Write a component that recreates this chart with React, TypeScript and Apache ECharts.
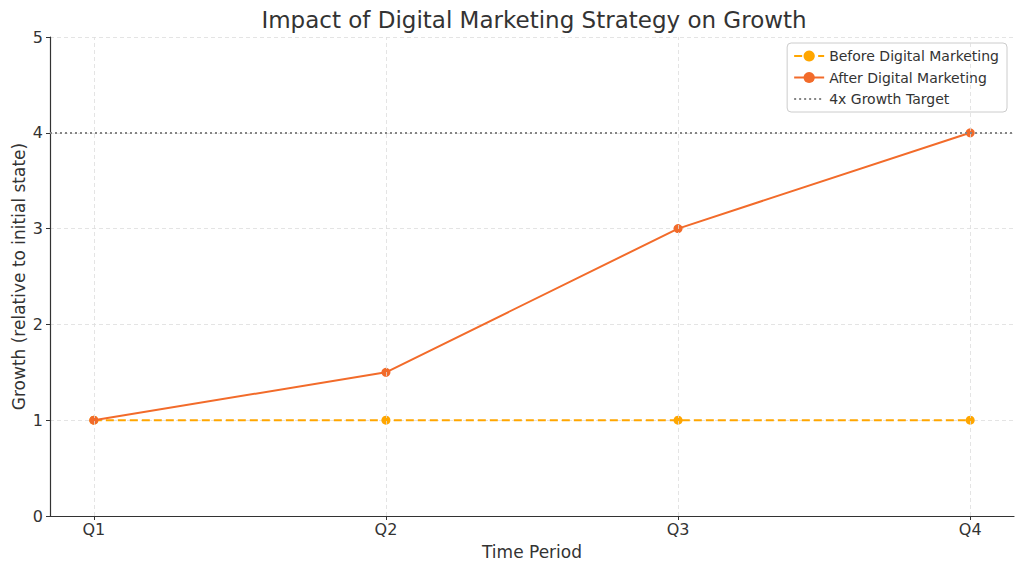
import React, { useEffect, useRef } from "react";
import * as echarts from "echarts";

const categories = ["Q1", "Q2", "Q3", "Q4"];
const beforeValues = [1, 1, 1, 1];
const afterValues = [1, 1.5, 3, 4];
const targetValue = 4;
const yTicks = [0, 1, 2, 3, 4, 5];

const FONT = "DejaVu Sans";
const TEXT = "#333333";

export default function App() {
  const ref = useRef<HTMLDivElement>(null);
  useEffect(() => {
    if (!ref.current) return;
    const chart = echarts.init(ref.current, null, { renderer: "svg" });
    const idx = categories.map((_, i) => i);
    chart.setOption({
      animation: false,
      backgroundColor: "#ffffff",
      textStyle: { fontFamily: FONT },
      title: {
        text: "Impact of Digital Marketing Strategy on Growth",
        left: 529,
        textAlign: "center",
        top: 3,
        textStyle: { fontFamily: FONT, fontSize: 23, fontWeight: "normal", color: TEXT },
      },
      legend: {
        data: [
          { name: "Before Digital Marketing" },
          { name: "After Digital Marketing" },
          { name: "4x Growth Target", itemStyle: { opacity: 0 } },
        ],
        orient: "vertical",
        right: 17,
        top: 43,
        padding: [6, 8, 6, 6],
        itemWidth: 30,
        itemHeight: 14,
        itemGap: 7.5,
        backgroundColor: "#ffffff",
        borderColor: "#cccccc",
        borderWidth: 1,
        borderRadius: 4,
        textStyle: { fontFamily: FONT, fontSize: 14, color: TEXT },
      },
      grid: { left: 50, right: 10, top: 37, bottom: 55, outerBoundsMode: "none", containLabel: false },
      xAxis: {
        type: "value",
        min: -0.15,
        max: 3.15,
        name: "Time Period",
        nameLocation: "middle",
        nameGap: 27,
        nameMoveOverlap: false,
        nameTextStyle: { fontFamily: FONT, fontSize: 17, color: TEXT },
        axisLine: { show: true, onZero: false, lineStyle: { color: "#333", width: 1.2 } },
        axisTick: { show: true, customValues: idx, length: 4, lineStyle: { color: "#333" } },
        axisLabel: {
          customValues: idx,
          formatter: (v: number) => categories[Math.round(v)] ?? "",
          fontFamily: FONT,
          fontSize: 16,
          color: TEXT,
          margin: 5,
        },
        splitLine: { show: false },
      },
      yAxis: {
        type: "value",
        min: yTicks[0],
        max: yTicks[yTicks.length - 1],
        interval: 1,
        name: "Growth (relative to initial state)",
        nameLocation: "middle",
        nameRotate: 90,
        nameGap: 23,
        nameMoveOverlap: false,
        nameTextStyle: { fontFamily: FONT, fontSize: 17, color: TEXT },
        axisLine: { show: true, onZero: false, lineStyle: { color: "#333", width: 1.2 } },
        axisTick: { show: true, length: 4, lineStyle: { color: "#333" } },
        axisLabel: { fontFamily: FONT, fontSize: 16, color: TEXT, margin: 7 },
        splitLine: { show: true, lineStyle: { color: "#dddddd", type: [4, 3], width: 0.8 } },
      },
      series: [
        {
          name: "gridlines",
          type: "line",
          data: [],
          z: 0,
          silent: true,
          markLine: {
            silent: true,
            symbol: "none",
            label: { show: false },
            lineStyle: { color: "#dddddd", type: [4, 3], width: 0.8 },
            data: idx.map((i) => ({ xAxis: i })),
          },
        },
        {
          name: "4x Growth Target",
          type: "line",
          data: [],
          z: 1,
          symbol: "none",
          lineStyle: { color: "#858585", type: [2, 3], width: 2 },
          itemStyle: { color: "#858585" },
          markLine: {
            silent: true,
            symbol: "none",
            label: { show: false },
            lineStyle: { color: "#858585", type: [2, 3], width: 2 },
            data: [{ yAxis: targetValue }],
          },
        },
        {
          name: "Before Digital Marketing",
          type: "line",
          z: 2,
          data: beforeValues.map((v, i) => [i, v]),
          symbol: "circle",
          symbolSize: 9,
          lineStyle: { color: "#FFA600", type: [8, 4], width: 2 },
          itemStyle: { color: "#FFA600" },
        },
        {
          name: "After Digital Marketing",
          type: "line",
          z: 3,
          data: afterValues.map((v, i) => [i, v]),
          symbol: "circle",
          symbolSize: 9,
          lineStyle: { color: "#F26B2A", width: 2 },
          itemStyle: { color: "#F26B2A" },
        },
      ],
    });
    return () => chart.dispose();
  }, []);
  return <div ref={ref} style={{ width: 1024, height: 571, margin: -8 }} />;
}
